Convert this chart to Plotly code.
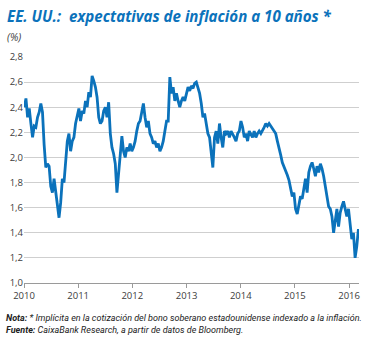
import pandas as pd
import plotly.graph_objects as go

# Breakeven 10-year inflation expectations (%), sampled ~every 11 days, Jan 2010 - Mar 2016
start_date = "2010-01-03"
end_date = "2016-03-04"
values = [
    2.40, 2.47, 2.32, 2.39, 2.27, 2.16, 2.25, 2.24, 2.32, 2.36,
    2.43, 2.36, 2.10, 1.92, 1.95, 1.93, 1.77, 1.72, 1.83, 1.73,
    1.64, 1.52, 1.64, 1.83, 1.80, 2.00, 2.13, 2.19, 2.05, 2.13,
    2.16, 2.27, 2.32, 2.39, 2.29, 2.37, 2.35, 2.45, 2.40, 2.52,
    2.48, 2.65, 2.61, 2.56, 2.48, 2.32, 2.27, 2.29, 2.37, 2.40,
    2.32, 2.44, 2.19, 2.08, 2.03, 1.95, 1.72, 1.88, 2.02, 2.17,
    2.05, 2.00, 2.08, 2.05, 2.11, 2.05, 2.08, 2.13, 2.21, 2.27,
    2.29, 2.35, 2.43, 2.32, 2.24, 2.29, 2.19, 2.16, 2.11, 2.13,
    2.08, 2.11, 2.05, 2.08, 2.13, 2.21, 2.29, 2.29, 2.64, 2.51,
    2.56, 2.45, 2.51, 2.45, 2.40, 2.45, 2.48, 2.45, 2.51, 2.56,
    2.53, 2.57, 2.55, 2.59, 2.60, 2.56, 2.51, 2.43, 2.32, 2.35,
    2.27, 2.19, 2.16, 2.05, 1.92, 2.16, 2.21, 2.11, 2.27, 2.16,
    2.08, 2.21, 2.19, 2.21, 2.16, 2.21, 2.19, 2.16, 2.13, 2.19,
    2.21, 2.29, 2.24, 2.16, 2.19, 2.13, 2.21, 2.19, 2.16, 2.21,
    2.16, 2.19, 2.21, 2.19, 2.21, 2.24, 2.27, 2.25, 2.27, 2.25,
    2.24, 2.21, 2.19, 2.13, 2.06, 2.02, 1.96, 1.93, 1.90, 1.86,
    1.82, 1.76, 1.69, 1.72, 1.59, 1.55, 1.61, 1.69, 1.67, 1.75,
    1.83, 1.72, 1.88, 1.93, 1.96, 1.91, 1.85, 1.93, 1.88, 1.95,
    1.91, 1.85, 1.77, 1.69, 1.61, 1.59, 1.53, 1.40, 1.51, 1.59,
    1.45, 1.56, 1.61, 1.65, 1.59, 1.53, 1.59, 1.45, 1.35, 1.40,
    1.20, 1.29, 1.43,
]
dates = pd.date_range(start=start_date, end=end_date, periods=len(values))

year_ticks = ["2010-01-01", "2011-01-01", "2012-01-01", "2013-01-01",
              "2014-01-01", "2015-01-01", "2016-01-01"]
year_labels = ["2010", "2011", "2012", "2013", "2014", "2015", "2016"]
y_ticks = [1.0, 1.2, 1.4, 1.6, 1.8, 2.0, 2.2, 2.4, 2.6, 2.8]

title_text = "<b><i>EE. UU.:  expectativas de inflación a 10 años *</i></b>"
unit_text = "<i>(%)</i>"
note_text = "<b><i>Nota:</i></b><i> * Implícita en la cotización del bono soberano estadounidense indexado a la inflación.</i>"
source_text = "<b><i>Fuente:</i></b><i> CaixaBank Research, a partir de datos de Bloomberg.</i>"

BLUE = "#0b72bb"
GREY = "#3c3c3c"

fig = go.Figure()
fig.add_trace(go.Scatter(
    x=dates, y=values, mode="lines",
    line=dict(color=BLUE, width=2.8),
    hoverinfo="x+y", showlegend=False,
))

L, R, T, B = 23, 10, 57, 55
W, H = 370, 338
pw, ph = W - L - R, H - T - B

def px_x(px):
    return (px - L) / pw

def px_y(py):
    return (H - B - py) / ph

fig.update_layout(
    width=W, height=H,
    margin=dict(l=L, r=R, t=T, b=B),
    paper_bgcolor="white", plot_bgcolor="white",
    separators=",.",
    font=dict(family="Open Sans, Liberation Sans, sans-serif", size=10, color=GREY),
    xaxis=dict(
        type="date",
        range=["2010-01-01", "2016-03-08"],
        tickvals=year_ticks, ticktext=year_labels,
        showgrid=False, zeroline=False,
        showline=True, linecolor="#9a9a9a", linewidth=1,
        ticks="outside", ticklen=4, tickcolor="#9a9a9a",
        tickfont=dict(size=9.5, color=GREY),
    ),
    yaxis=dict(
        range=[1.0, 2.8],
        tickvals=y_ticks, tickformat=".1f",
        showgrid=True, gridcolor="#cfcfcf", gridwidth=1,
        zeroline=False, showline=False, ticks="",
        tickfont=dict(size=9.5, color=GREY),
    ),
    annotations=[
        dict(text=title_text, x=px_x(4), y=px_y(16), xref="paper", yref="paper",
             xanchor="left", yanchor="middle", showarrow=False,
             font=dict(size=15.1, color=BLUE, family="Open Sans, Liberation Sans, sans-serif")),
        dict(text=unit_text, x=px_x(4), y=px_y(37), xref="paper", yref="paper",
             xanchor="left", yanchor="middle", showarrow=False,
             font=dict(size=10.5, color=GREY)),
        dict(text=note_text, x=px_x(3), y=px_y(318), xref="paper", yref="paper",
             xanchor="left", yanchor="middle", showarrow=False,
             font=dict(size=9.0, color="#222222", family="Liberation Sans Narrow, Roboto, sans-serif")),
        dict(text=source_text, x=px_x(3), y=px_y(330), xref="paper", yref="paper",
             xanchor="left", yanchor="middle", showarrow=False,
             font=dict(size=9.0, color="#222222", family="Liberation Sans Narrow, Roboto, sans-serif")),
    ],
)

fig.write_html("out.html")
